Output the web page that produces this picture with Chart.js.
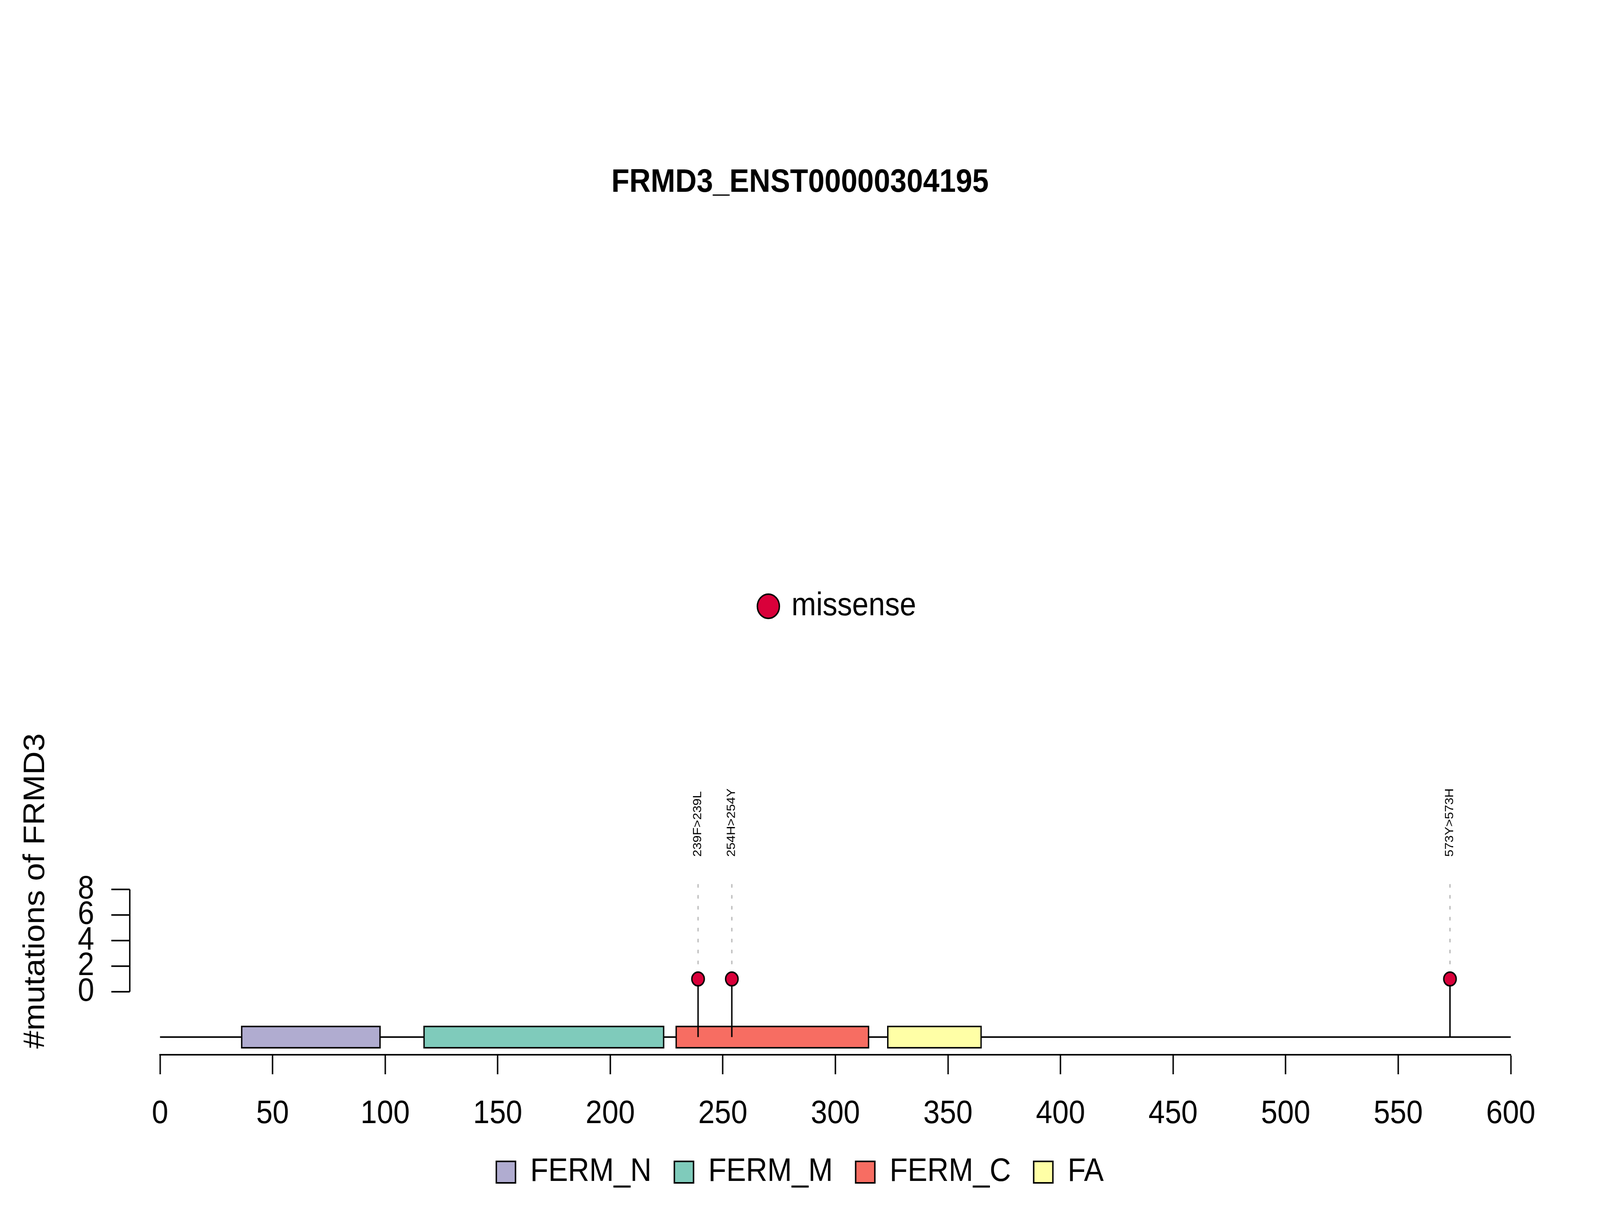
<!DOCTYPE html>
<html>
<head>
<meta charset="utf-8">
<title>FRMD3_ENST00000304195</title>
<script src="https://cdn.jsdelivr.net/npm/chart.js@4.4.1/dist/chart.umd.min.js"></script>
<style>
html, body { margin: 0; padding: 0; background: #fff; overflow: hidden; }
</style>
</head>
<body>
<canvas id="lollipop" width="4500" height="3100" style="display:block;width:100vw;height:100vh;"></canvas>
<script>
// Protein domains
var domainNames = ['FERM_N', 'FERM_M', 'FERM_C', 'FA'];
var domainStarts = [36, 117, 229, 323];
var domainEnds = [98, 224, 315, 365];
var domainColors = ['#B0ACD0', '#7FCBBB', '#F76D62', '#FFFFA6'];

// Mutations
var mutPositions = [239, 254, 573];
var mutCounts = [1, 1, 1];
var mutLabels = ['239F>239L', '254H>254Y', '573Y>573H'];
var mutType = 'missense';
var mutColor = '#D9003A';

// Axis ticks
var xTicks = [0, 50, 100, 150, 200, 250, 300, 350, 400, 450, 500, 550, 600];
var yTicks = [0, 2, 4, 6, 8];

// layout levels (in y units of the count axis)
var backboneLevel = -3.54;
var dashTop = 8.37;
var labelBase = 10.55;
var yMin = -4.92, yMax = 20.68;

var FONT = "'Liberation Sans', Arial, Helvetica, sans-serif";
Chart.defaults.font.family = FONT;
Chart.defaults.color = '#000';

var datasets = [];

// domain boxes (one dataset each so they show in the legend)
domainNames.forEach(function (name, i) {
    datasets.push({
        type: 'bar',
        label: name,
        indexAxis: 'y',
        grouped: false,
        data: [{ x: [domainStarts[i], domainEnds[i]], y: backboneLevel }],
        backgroundColor: domainColors[i],
        borderColor: '#000',
        borderWidth: 4,
        borderSkipped: false,
        barThickness: 58,
        order: 40,
        clip: false
    });
});

// backbone
datasets.push({
    type: 'line',
    label: 'backbone',
    data: [{ x: xTicks[0], y: backboneLevel }, { x: xTicks[xTicks.length - 1], y: backboneLevel }],
    borderColor: '#000',
    borderWidth: 4,
    pointRadius: 0,
    order: 50,
    clip: false
});

// stems and dashed guides
mutPositions.forEach(function (pos, i) {
    datasets.push({
        type: 'line',
        label: 'stem' + i,
        data: [{ x: pos, y: backboneLevel }, { x: pos, y: mutCounts[i] }],
        borderColor: '#000',
        borderWidth: 4,
        pointRadius: 0,
        order: 30,
        clip: false
    });
    datasets.push({
        type: 'line',
        label: 'guide' + i,
        data: [{ x: pos, y: dashTop }, { x: pos, y: mutCounts[i] }],
        borderColor: '#BEBEBE',
        borderWidth: 4,
        borderDash: [6, 22],
        borderCapStyle: 'round',
        pointRadius: 0,
        order: 20,
        clip: false
    });
});

// lollipop heads
datasets.push({
    type: 'scatter',
    label: mutType,
    data: mutPositions.map(function (pos, i) { return { x: pos, y: mutCounts[i] }; }),
    backgroundColor: mutColor,
    borderColor: '#000',
    pointRadius: 17.5,
    pointBorderWidth: 4,
    order: 10,
    clip: false
});

// y axis drawn R-style, detached from the plot region
var detachedYAxis = {
    id: 'detachedYAxis',
    afterDraw: function (chart) {
        var ctx = chart.ctx;
        var ys = chart.scales.y;
        var xl = chart.chartArea.left - 85;
        ctx.save();
        ctx.strokeStyle = '#000';
        ctx.lineWidth = 4;
        ctx.beginPath();
        ctx.moveTo(xl, ys.getPixelForValue(yTicks[0]));
        ctx.lineTo(xl, ys.getPixelForValue(yTicks[yTicks.length - 1]));
        yTicks.forEach(function (v) {
            var p = ys.getPixelForValue(v);
            ctx.moveTo(xl - 52, p);
            ctx.lineTo(xl, p);
        });
        ctx.stroke();
        ctx.restore();
    }
};

// rotated mutation labels
var mutationLabels = {
    id: 'mutationLabels',
    afterDatasetsDraw: function (chart) {
        var ctx = chart.ctx;
        var xs = chart.scales.x, ys = chart.scales.y;
        ctx.save();
        ctx.font = '33px ' + FONT;
        ctx.fillStyle = '#000';
        ctx.textAlign = 'left';
        ctx.textBaseline = 'middle';
        mutPositions.forEach(function (pos, i) {
            ctx.save();
            ctx.translate(xs.getPixelForValue(pos), ys.getPixelForValue(labelBase));
            ctx.rotate(-Math.PI / 2);
            ctx.fillText(mutLabels[i], 0, 0);
            ctx.restore();
        });
        ctx.restore();
    }
};

// mutation type legend above the plot
var typeLegend = {
    id: 'typeLegend',
    afterDraw: function (chart) {
        var ctx = chart.ctx;
        var cx = 2161, cy = 1552;
        ctx.save();
        ctx.beginPath();
        ctx.arc(cx, cy, 31, 0, Math.PI * 2);
        ctx.fillStyle = mutColor;
        ctx.fill();
        ctx.lineWidth = 4;
        ctx.strokeStyle = '#000';
        ctx.stroke();
        ctx.font = '83px ' + FONT;
        ctx.fillStyle = '#000';
        ctx.textAlign = 'left';
        ctx.textBaseline = 'middle';
        ctx.fillText(mutType, 2226, cy);
        ctx.restore();
    }
};

new Chart(document.getElementById('lollipop'), {
    type: 'scatter',
    data: { datasets: datasets },
    options: {
        responsive: false,
        devicePixelRatio: 1,
        animation: false,
        events: [],
        layout: { padding: { left: 0, right: 0, top: 0, bottom: 48 } },
        scales: {
            x: {
                type: 'linear',
                min: xTicks[0],
                max: xTicks[xTicks.length - 1],
                afterBuildTicks: function (s) {
                    s.ticks = xTicks.map(function (v) { return { value: v }; });
                },
                afterFit: function (s) { s.height = 195; },
                ticks: { font: { size: 83 }, color: '#000', padding: 52, autoSkip: false, maxRotation: 0 },
                grid: { display: true, drawOnChartArea: false, drawTicks: true, tickLength: 50, tickWidth: 4, tickColor: '#000' },
                border: { display: true, color: '#000', width: 4 }
            },
            y: {
                type: 'linear',
                position: 'left',
                min: yMin,
                max: yMax,
                offset: false,
                afterBuildTicks: function (s) {
                    s.ticks = yTicks.map(function (v) { return { value: v }; });
                },
                afterFit: function (s) { s.width = 450; },
                ticks: { font: { size: 83 }, color: '#000', padding: 185, autoSkip: false },
                grid: { display: false, drawTicks: false, offset: false },
                border: { display: false },
                title: {
                    display: true,
                    text: '#mutations of FRMD3',
                    font: { size: 83 },
                    color: '#000',
                    padding: { top: 51, bottom: 0 }
                }
            },
            y2: {
                type: 'linear',
                position: 'right',
                display: true,
                afterFit: function (s) { s.width = 251; },
                ticks: { display: false },
                grid: { display: false },
                border: { display: false }
            }
        },
        plugins: {
            title: {
                display: true,
                text: 'FRMD3_ENST00000304195',
                font: { size: 83, weight: 'bold' },
                color: '#000',
                padding: { top: 418, bottom: 1344 }
            },
            legend: {
                display: true,
                position: 'bottom',
                labels: {
                    font: { size: 83 },
                    color: '#000',
                    boxWidth: 54,
                    boxHeight: 55,
                    padding: 64,
                    filter: function (item) { return item.datasetIndex < domainNames.length; }
                }
            },
            tooltip: { enabled: false }
        }
    },
    plugins: [detachedYAxis, mutationLabels, typeLegend]
});
</script>
</body>
</html>
